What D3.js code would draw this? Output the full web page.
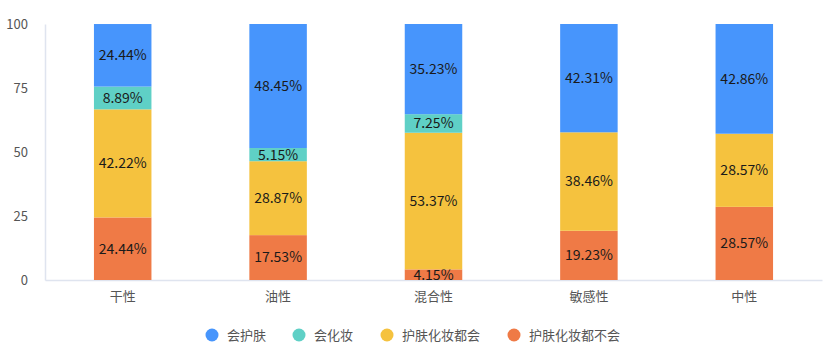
<!DOCTYPE html>
<html>
<head>
<meta charset="utf-8">
<script src="https://cdn.jsdelivr.net/npm/d3@7"></script>
<style>
body { margin:0; background:#fff; font-family:"Noto Sans CJK SC","Noto Sans",sans-serif; }
</style>
</head>
<body>
<div id="chart"></div>
<script>
var categories = ["干性", "油性", "混合性", "敏感性", "中性"];
var seriesNames = ["会护肤", "会化妆", "护肤化妆都会", "护肤化妆都不会"];
var seriesColors = ["#4795fc", "#5fd0c6", "#f5c23e", "#ef7a46"];
// values per category, bottom to top: 都不会, 都会, 会化妆, 会护肤
var neither = [24.44, 17.53, 4.15, 19.23, 28.57];
var both = [42.22, 28.87, 53.37, 38.46, 28.57];
var makeup = [8.89, 5.15, 7.25, 0, 0];
var skincare = [24.44, 48.45, 35.23, 42.31, 42.86];
var yTicks = [0, 25, 50, 75, 100];

var w = 823, h = 363;
var mLeft = 45, mRight = 822, mTop = 24, mBottom = 280;

var svg = d3.select("#chart").append("svg")
  .attr("width", w).attr("height", h);

var x = d3.scaleBand().domain(categories).range([mLeft, mRight]).paddingInner(0.63).paddingOuter(0.315);
var y = d3.scaleLinear().domain([0, 100]).range([mBottom, mTop]);

// axes
var yAxis = svg.append("g").attr("transform", "translate(" + mLeft + ",0)")
  .call(d3.axisLeft(y).tickValues(yTicks).tickSize(0).tickPadding(17));
yAxis.select(".domain").attr("stroke", "#dfe4ef").attr("stroke-width", 1.5);
yAxis.selectAll("text").attr("font-size", 13).attr("fill", "#555").attr("font-family", "'Noto Sans CJK SC',sans-serif");

var xAxis = svg.append("g").attr("transform", "translate(0," + mBottom + ")")
  .call(d3.axisBottom(x).tickSize(0).tickPadding(12));
xAxis.select(".domain").attr("stroke", "#dfe4ef").attr("stroke-width", 1.5);
xAxis.selectAll("text").attr("font-size", 13).attr("fill", "#555").attr("font-family", "'Noto Sans CJK SC',sans-serif");

// stack data
var rows = categories.map(function(c, i) {
  return { cat: c, neither: neither[i], both: both[i], makeup: makeup[i], skincare: skincare[i] };
});
var keys = ["neither", "both", "makeup", "skincare"];
var colorOf = { neither: seriesColors[3], both: seriesColors[2], makeup: seriesColors[1], skincare: seriesColors[0] };
var stacked = d3.stack().keys(keys)(rows);

var layers = svg.selectAll("g.layer").data(stacked).enter().append("g")
  .attr("class", "layer").attr("fill", function(d) { return colorOf[d.key]; });

layers.selectAll("rect").data(function(d) { return d.filter(function(s){ return s[1] - s[0] > 0; }); })
  .enter().append("rect")
  .attr("x", function(d) { return x(d.data.cat); })
  .attr("width", x.bandwidth())
  .attr("y", function(d) { return y(d[1]); })
  .attr("height", function(d) { return y(d[0]) - y(d[1]); });

layers.selectAll("text").data(function(d) { return d.filter(function(s){ return s[1] - s[0] > 0; }); })
  .enter().append("text")
  .attr("x", function(d) { return x(d.data.cat) + x.bandwidth() / 2; })
  .attr("y", function(d) { return (y(d[0]) + y(d[1])) / 2; })
  .attr("dy", "0.35em")
  .attr("text-anchor", "middle")
  .attr("font-size", 14)
  .attr("fill", "#1a1a1a")
  .attr("font-family", "'Noto Sans CJK SC',sans-serif")
  .text(function(d) { return (d[1] - d[0]).toFixed(2) + "%"; });

// legend
var legendX = [212, 299, 387, 514];
var legend = svg.selectAll("g.legend").data(seriesNames).enter().append("g")
  .attr("class", "legend")
  .attr("transform", function(d, i) { return "translate(" + legendX[i] + ",335)"; });
legend.append("circle").attr("r", 6.5).attr("fill", function(d, i) { return seriesColors[i]; });
legend.append("text").attr("x", 15).attr("dy", "0.35em")
  .attr("font-size", 13).attr("fill", "#555")
  .attr("font-family", "'Noto Sans CJK SC',sans-serif")
  .text(function(d) { return d; });
</script>
</body>
</html>
